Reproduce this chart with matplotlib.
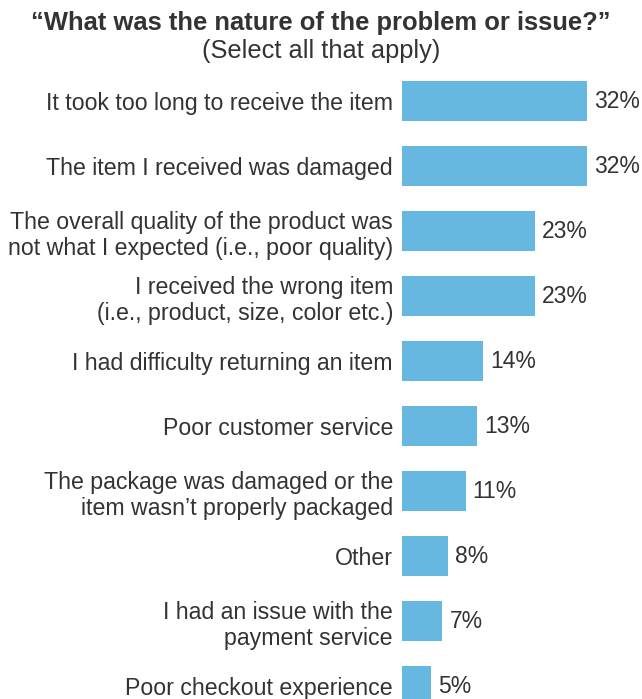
import matplotlib.pyplot as plt

plt.rcParams['font.family'] = ['Liberation Sans', 'DejaVu Sans']

categories = [
    'It took too long to receive the item',
    'The item I received was damaged',
    'The overall quality of the product was\nnot what I expected (i.e., poor quality)',
    'I received the wrong item\n(i.e., product, size, color etc.)',
    'I had difficulty returning an item',
    'Poor customer service',
    'The package was damaged or the\nitem wasn\u2019t properly packaged',
    'Other',
    'I had an issue with the\npayment service',
    'Poor checkout experience',
]
values = [32, 32, 23, 23, 14, 13, 11, 8, 7, 5]

bar_color = '#66b8e1'
text_color = '#333333'

fig = plt.figure(figsize=(6.42, 6.99), dpi=100)
ax = fig.add_axes([402 / 642, 0, 240 / 642, 629 / 699])

pos = list(range(len(values)))
ax.barh(pos, values, height=0.615, color=bar_color)
ax.set_xlim(0, 240 / 5.78)
ax.set_ylim(9.2, -0.477)

for y, v in zip(pos, values):
    ax.text(v + 1.2, y, f'{v}%', va='center', ha='left', fontsize=16.5, color=text_color)

ax.set_yticks(pos)
ax.set_yticklabels(categories, fontsize=16.7, color=text_color)
ax.tick_params(axis='y', length=0, pad=6.5)
ax.set_xticks([])
for s in ax.spines.values():
    s.set_visible(False)

fig.text(0.5, 1 - 23 / 699, '\u201cWhat was the nature of the problem or issue?\u201d',
         ha='center', va='center', fontsize=18.4, fontweight='bold', color=text_color)
fig.text(0.5, 1 - 51 / 699, '(Select all that apply)',
         ha='center', va='center', fontsize=18.3, color=text_color)

fig.savefig('out.png', dpi=100)
